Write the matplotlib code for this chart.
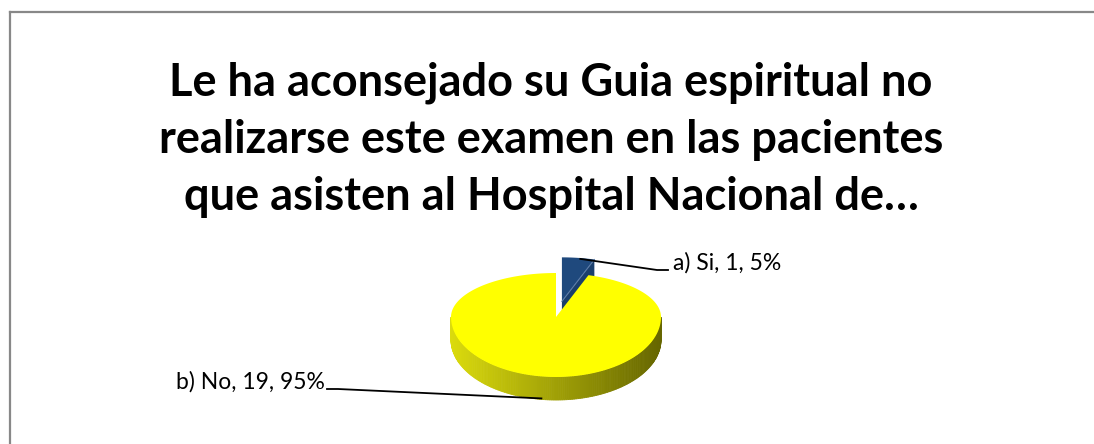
import matplotlib.pyplot as plt
import numpy as np
from matplotlib.patches import Polygon
from matplotlib.lines import Line2D

# datos de la encuesta
categorias = ['a) Si', 'b) No']
respuestas = [1, 19]
colores_sup = ['#1F497D', '#FFFF00']
titulo = ['Le ha aconsejado su Guia espiritual no',
          'realizarse este examen en las pacientes',
          'que asisten al Hospital Nacional de\u2026']

W, H = 1094, 444
fig = plt.figure(figsize=(W / 100, H / 100), dpi=100)
ax = fig.add_axes([0, 0, 1, 1])
ax.set_xlim(0, W)
ax.set_ylim(H, 0)
ax.axis('off')

# borde del area del grafico
fig.add_artist(Line2D([10 / W, 10 / W], [0, 1 - 12 / H], color='#888888', lw=1.6))
fig.add_artist(Line2D([10 / W, 1], [1 - 12 / H, 1 - 12 / H], color='#888888', lw=1.6))

# titulo, una linea por texto
for i, linea in enumerate(titulo):
    ax.text(551, 83 + i * 57, linea, ha='center', va='center',
            fontsize=32.5, fontweight='bold', family='Lato')

# geometria del pastel 3D
cx, cy = 556, 317
rx, ry_atras, ry_frente = 105, 44, 60
prof = 23


def proy(t, r=1.0, dx=0.0, dy=0.0, z=0.0):
    t = np.asarray(t)
    s = np.sin(t)
    ry = np.where(s > 0, ry_atras, ry_frente)
    return cx + dx + r * rx * np.cos(t), cy + dy - r * ry * s + z


total = sum(respuestas)
fr = [v / total for v in respuestas]
# Excel empieza en las 12 y gira en sentido horario
inicio = np.pi / 2
tramos = []
a = inicio
for f in fr:
    tramos.append((a - 2 * np.pi * f, a))
    a -= 2 * np.pi * f

# porcion "Si" separada hacia atras
t0, t1 = tramos[0]
tm = (t0 + t1) / 2
sep = 0.36
ex = sep * rx * np.cos(tm)
ey = -sep * ry_atras * np.sin(tm)

# cara radial del borde derecho
px, py = proy([t0], dx=ex, dy=ey)
qx, qy = cx + ex, cy + ey
cara = [(qx, qy), (px[0], py[0]), (px[0], py[0] + prof), (qx, qy + prof)]
ax.add_patch(Polygon(cara, closed=True, fc='#1B3F6C', ec='none', zorder=2))
tt = np.linspace(t0, t1, 30)
xs, ys = proy(tt, dx=ex, dy=ey)
sup = [(qx, qy)] + list(zip(xs, ys))
ax.add_patch(Polygon(sup, closed=True, fc=colores_sup[0], ec='none', zorder=3))
ax.plot([qx, px[0]], [qy, py[0]], color='#5A7AA6', lw=0.8, zorder=3.5)

# porcion "No": lateral con degradado
u0, u1 = tramos[1]
n = 160
tl = np.linspace(np.pi, 2 * np.pi, n + 1)
c_claro = np.array([0.86, 0.86, 0.05])
c_oscuro = np.array([0.40, 0.40, 0.0])
for k in range(n):
    a0, a1 = tl[k], tl[k + 1]
    x0, y0 = proy([a0])
    x1, y1 = proy([a1])
    m = (np.cos((a0 + a1) / 2) * -1 + 1) / 2
    col = c_claro * m + c_oscuro * (1 - m)
    quad = [(x0[0], y0[0]), (x1[0], y1[0]), (x1[0], y1[0] + prof), (x0[0], y0[0] + prof)]
    ax.add_patch(Polygon(quad, closed=True, fc=col, ec=col, lw=0.6, zorder=4))

tt = np.linspace(u0, u1, 300)
xs, ys = proy(tt)
sup = [(cx, cy)] + list(zip(xs, ys))
ax.add_patch(Polygon(sup, closed=True, fc=colores_sup[1], ec='none', zorder=5))

# etiquetas con lineas guia
pct = [round(f * 100) for f in fr]
etq = [f'{c}, {v}, {p}%' for c, v, p in zip(categorias, respuestas, pct)]

lx, ly = proy([tm], dx=ex, dy=ey)
ax.plot([lx[0] + 2, 657, 668], [ly[0] + 1, 270, 270], color='black', lw=1.3, zorder=6)
ax.text(673, 263, etq[0], ha='left', va='center', fontsize=16.5, family='Lato', zorder=6)

bx, by = proy([np.deg2rad(262)], z=prof)
ax.plot([bx[0], 338, 327], [by[0] - 1, 389, 389], color='black', lw=1.3, zorder=6)
ax.text(325, 382, etq[1], ha='right', va='center', fontsize=16.5, family='Lato', zorder=6)

fig.savefig('out.png', dpi=100, facecolor='white')
